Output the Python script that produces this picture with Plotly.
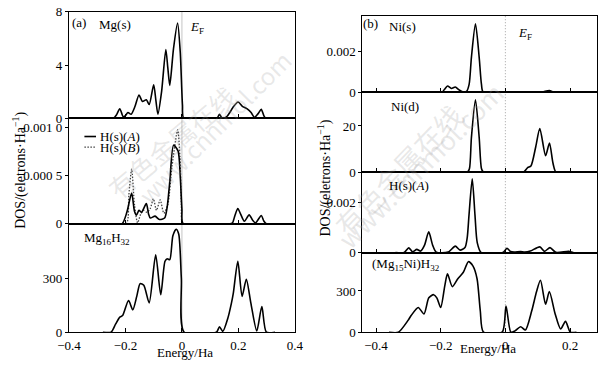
import plotly.graph_objects as go

W, H = 608, 369

# ---------------- data ----------------
# (a) Mg(s)
mg_s_e = [-0.30, -0.243, -0.232, -0.220, -0.208, -0.200, -0.191, -0.180, -0.166, -0.152, -0.140,
          -0.126, -0.116, -0.100, -0.092, -0.085, -0.072, -0.057, -0.050, -0.043, -0.030, -0.0154,
          -0.006, 0.002, 0.0068, 0.12, 0.126, 0.133, 0.141, 0.150, 0.160, 0.170, 0.180, 0.199,
          0.214, 0.230, 0.245, 0.257, 0.270, 0.281, 0.290, 0.297, 0.33]
mg_s_dos = [0, 0, 0.25, 0.72, 0.12, 0.2, 0.43, 0.3, 0.9, 1.75, 1.27, 1.39, 1.03, 2.52, 1.3,
            0.3, 2.0, 5.17, 3.8, 2.47, 5.2, 7.16, 5.0, 1.0, 0, 0, 0.06, 0.3, 0.05, 0.02, 0.15,
            0.45, 0.8, 1.22, 0.9, 0.72, 0.43, 0.07, 0.35, 0.67, 0.2, 0, 0]

# (a) H(s)(A)
h_a_e = [-0.25, -0.212, -0.195, -0.178, -0.168, -0.161, -0.152, -0.143, -0.126, -0.118, -0.112,
         -0.095, -0.080, -0.0615, -0.052, -0.043, -0.0296, -0.0137, -0.006, 0.0, 0.0046, 0.17,
         0.179, 0.188, 0.198, 0.208, 0.221, 0.238, 0.250, 0.261, 0.281, 0.290, 0.299, 0.33]
h_a_dos = [0, 0, 0.00012, 0.00032, 0.00013, 0.00009, 0.00014, 0.00012, 0.00021, 0.0001, 0.00006,
           0.00008, 0.000045, 0.00006, 0.00018, 0.00044, 0.00082, 0.00076, 0.0005, 0.00015, 0,
           0, 0.00001, 0.00009, 0.00016, 0.0001, 0.000027, 0.000093, 0.00004, 0.00001, 0.000087,
           0.00003, 0, 0]

# (a) H(s)(B)
h_b_e = [-0.25, -0.197, -0.188, -0.178, -0.168, -0.157, -0.146, -0.135, -0.124, -0.112, -0.101,
         -0.090, -0.077, -0.064, -0.050, -0.035, -0.015, -0.007, -0.002, 0.003, 0.05]
h_b_dos = [0, 0, 0.0003, 0.00057, 0.0002, 0.00001, 0.0001, 0.00014, 0.00012, 0.00016, 0.00026,
           0.00014, 0.00025, 0.00011, 0.0002, 0.0006, 0.00098, 0.0007, 0.0002, 0, 0]

# (a) Mg16H32
mgh_e = [-0.28, -0.251, -0.235, -0.220, -0.210, -0.189, -0.174, -0.160, -0.148, -0.135, -0.116,
         -0.093, -0.075, -0.060, -0.052, -0.043, -0.032, -0.0205, -0.0114, -0.002, 0.008, 0.122,
         0.133, 0.145, 0.162, 0.1755, 0.182, 0.198, 0.213, 0.228, 0.244, 0.265, 0.283, 0.299, 0.33]
mgh_dos = [0, 0, 45, 84, 93, 177, 125, 200, 271, 262, 164, 432, 209, 396, 410, 405, 539, 575,
           548, 300, 0, 0, 30, 5, 75, 164, 218, 396, 200, 296, 164, 7, 143, 0, 0]

# (b) Ni(s)
ni_s_e = [-0.24, -0.197, -0.188, -0.179, -0.167, -0.155, -0.143, -0.132, -0.120, -0.112, -0.105,
          -0.0925, -0.081, -0.074, -0.068, 0.096, 0.115, 0.136, 0.151, 0.18]
ni_s_dos = [0, 0, 0.00015, 0.00031, 0.00019, 0.00026, 0.00012, 0.00003, 0.00005, 0.0004, 0.0017,
            0.00332, 0.0017, 0.0004, 0, 0, 0.00002, 0.00009, 0, 0]

# (b) Ni(d)
ni_d_e = [-0.15, -0.117, -0.111, -0.105, -0.0925, -0.081, -0.074, -0.068, 0.045, 0.057, 0.069,
          0.079, 0.094, 0.1065, 0.1244, 0.1364, 0.147, 0.156, 0.18]
ni_d_dos = [0, 0, 1.5, 15, 31.4, 15, 1.5, 0, 0, 0, 1.9, 2.6, 11, 18.9, 7.1, 12.6, 4, 0, 0]

# (b) H(s)(A)
hb_a_e = [-0.34, -0.313, -0.299, -0.287, -0.274, -0.262, -0.250, -0.237, -0.225, -0.214, -0.177,
          -0.155, -0.140, -0.125, -0.118, -0.1125, -0.1025, -0.094, -0.087, -0.0746, -0.008,
          0.005, 0.016, 0.027, 0.047, 0.060, 0.077, 0.1065, 0.121, 0.138, 0.156, 0.196, 0.21]
hb_a_dos = [0, 0, 0.00019, 0.00003, 0.00013, 0.00006, 0.0003, 0.00083, 0.0003, 0.00002, 0.00002,
            0.00026, 0.0001, 0.0002, 0.0006, 0.0015, 0.00296, 0.0015, 0.0004, 0, 0, 0.00017,
            0.00004, 0.00002, 0.00004, 0.00002, 0.00006, 0.00023, 0.00005, 0.0002, 0.00001,
            0.00005, 0]

# (b) (Mg15Ni)H32
mgni_e = [-0.36, -0.331, -0.301, -0.2915, -0.2696, -0.2517, -0.2368, -0.2219, -0.212, -0.200,
          -0.187, -0.179, -0.164, -0.147, -0.130, -0.1144, -0.1005, -0.0876, -0.0776, -0.0677,
          -0.0099, 0.002, 0.017, 0.030, 0.047, 0.062, 0.0816, 0.0965, 0.1085, 0.1244, 0.136,
          0.154, 0.171, 0.186, 0.201, 0.22]
mgni_dos = [0, 0, 86, 121, 180, 133, 250, 273, 250, 180, 343, 424, 331, 389, 436, 513, 482, 389,
            156, 0, 0, 191, 0, 10, 40, 16, 156, 296, 378, 203, 296, 133, 23, 79, 0, 0]

x_ticks = [-0.4, -0.2, 0, 0.2, 0.4]

# ---------------- layout helpers ----------------
def fx(p):
    return p / W


def fy(p):
    return 1 - p / H


FONT = "Liberation Serif"
LEFT = [fx(59), fx(293)]
RIGHT = [fx(363), fx(606)]

# name, x-domain, (top px, bottom px), x-range, y-range, tickvals, ticktext, show x labels
subs = [
    ("", LEFT, (5, 116), [-0.4, 0.4], [0, 8.0001], [0, 4, 8], ["0", "4", "8"], False),
    ("2", LEFT, (116, 226), [-0.4, 0.4], [0, 0.0011], [0, 0.0005, 0.001], ["0", "0.000 5", "0.001 0"], False),
    ("3", LEFT, (226, 339), [-0.4, 0.4], [0, 605], [0, 300], ["0", "300"], True),
    ("4", RIGHT, (9, 89), [-0.442, 0.2836], [0, 0.00372], [0, 0.002], ["0", "0.002"], False),
    ("5", RIGHT, (89, 172), [-0.442, 0.2836], [0, 34.6], [0, 20], ["0", "20"], False),
    ("6", RIGHT, (172, 256), [-0.442, 0.2836], [0, 0.00323], [0, 0.002], ["0", "0.002"], False),
    ("7", RIGHT, (256, 339), [-0.442, 0.2836], [0, 579], [0, 300], ["0", "300"], True),
]

fig = go.Figure()

layout = dict(
    width=W, height=H, margin=dict(l=0, r=0, t=0, b=0),
    paper_bgcolor="white", plot_bgcolor="rgba(0,0,0,0)", showlegend=False,
    font=dict(family=FONT, size=13, color="black"),
)
for name, xd, (top, bot), xr, yr, tv, tt, showx in subs:
    layout["xaxis" + name] = dict(
        domain=xd, range=xr, anchor="y" + name, showline=True, mirror=True,
        linecolor="black", linewidth=1, ticks="inside", ticklen=4, tickcolor="black",
        tickvals=x_ticks, showticklabels=showx, showgrid=False, zeroline=False,
        tickfont=dict(family=FONT, size=13), ticklabelstandoff=1,
    )
    layout["yaxis" + name] = dict(
        domain=[fy(bot), fy(top)], range=yr, anchor="x" + name, showline=True, mirror=True,
        linecolor="black", linewidth=1, ticks="outside", ticklen=3, tickcolor="black",
        tickvals=tv, ticktext=tt, showgrid=False, zeroline=False,
        tickfont=dict(family=FONT, size=13), ticklabeloverflow="allow",
    )
fig.update_layout(**layout)

solid = dict(color="black", width=1.6, shape="spline", smoothing=0.7)
dotted = dict(color="#444", width=1.3, dash="1.5px,1.5px", shape="spline", smoothing=0.7)
curves = [
    (mg_s_e, mg_s_dos, "", solid),
    (h_b_e, h_b_dos, "2", dotted),
    (h_a_e, h_a_dos, "2", solid),
    (mgh_e, mgh_dos, "3", solid),
    (ni_s_e, ni_s_dos, "4", solid),
    (ni_d_e, ni_d_dos, "5", solid),
    (hb_a_e, hb_a_dos, "6", solid),
    (mgni_e, mgni_dos, "7", solid),
]
for xs, ys, n, ln in curves:
    fig.add_trace(go.Scatter(x=xs, y=ys, xaxis="x" + n, yaxis="y" + n, mode="lines",
                             line=ln, hoverinfo="skip", cliponaxis=True))

# Fermi level lines
fig.add_shape(type="line", xref="x", yref="paper", x0=0, x1=0, y0=fy(339), y1=fy(5),
              line=dict(color="#c4c4c4", width=1), layer="below")
fig.add_shape(type="line", xref="x4", yref="paper", x0=0, x1=0, y0=fy(339), y1=fy(9),
              line=dict(color="#a0a0a0", width=1, dash="1px,2px"), layer="below")

# legend samples in (a) middle panel
fig.add_shape(type="line", xref="paper", yref="paper", x0=fx(75), x1=fx(87), y0=fy(135), y1=fy(135),
              line=dict(color="black", width=1.6))
fig.add_shape(type="line", xref="paper", yref="paper", x0=fx(75), x1=fx(87), y0=fy(146), y1=fy(146),
              line=dict(color="#444", width=1.3, dash="1.5px,1.5px"))


def txt(x, y, s, size=13, anchor="center", yanchor="middle", **kw):
    fig.add_annotation(x=fx(x), y=fy(y), xref="paper", yref="paper", text=s, showarrow=False,
                       xanchor=anchor, yanchor=yanchor,
                       font=dict(family=FONT, size=size, color="black"), **kw)


# faint watermark as in the source image
for (x, y, s, ang, sz) in [(88, 70, "有色金属在线", -40, 26), (120, 125, "www.cnnmol.com", -45, 24),
                           (478, 250, "有色金属在线", -46, 28), (520, 262, "www.cnnmol.com", -45, 26)]:
    fig.add_annotation(x=fx(x), y=fy(y), xref="paper", yref="paper", text=s, showarrow=False,
                       textangle=ang, font=dict(family="Noto Sans CJK SC", size=sz,
                                                color="rgba(150,150,150,0.22)"))

txt(69, 16, "(a)")
txt(88, 18, "Mg(s)", anchor="left")
txt(182, 21, "<i>E</i><sub>F</sub>", anchor="left")
txt(89, 135, "H(s)(<i>A</i>)", anchor="left")
txt(89, 146, "H(s)(<i>B</i>)", anchor="left")
txt(72, 241, "Mg<sub>16</sub>H<sub>32</sub>", anchor="left")
txt(179, 370, "Energy/Ha", yanchor="bottom")
txt(7, 170, "DOS/(eletrons·Ha<sup>−1</sup>)", size=14, textangle=-90)

txt(371, 17, "(b)")
txt(388, 20, "Ni(s)", anchor="left")
txt(522, 28, "<i>E</i><sub>F</sub>", anchor="left")
txt(390, 104, "Ni(d)", anchor="left")
txt(388, 186, "H(s)(<i>A</i>)", anchor="left")
txt(371, 268, "(Mg<sub>15</sub>Ni)H<sub>32</sub>", anchor="left")
txt(493, 366, "Energy/Ha", yanchor="bottom")
txt(324, 178, "DOS/(eletrons·Ha<sup>−1</sup>)", size=14, textangle=-90)

fig.write_html("out.html", config={"displayModeBar": False},
               post_script="document.body.style.margin='0';")
